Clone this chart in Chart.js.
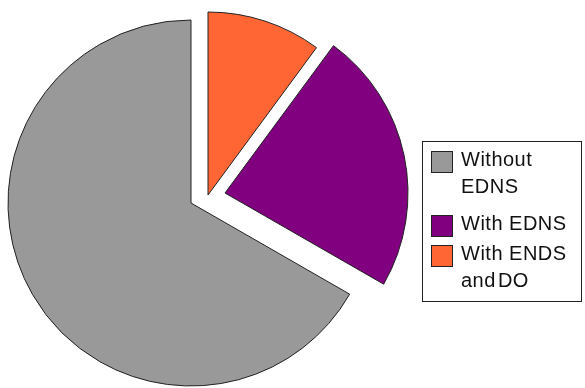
<!DOCTYPE html>
<html>
<head>
<meta charset="utf-8">
<script src="https://cdn.jsdelivr.net/npm/chart.js@4.4.1/dist/chart.umd.min.js"></script>
<style>
  html, body { margin: 0; padding: 0; background: #fff; }
  #wrap { position: relative; width: 585px; height: 388px; }
  #pie { position: absolute; left: 0; top: 0; }
  #legend {
    position: absolute; left: 422px; top: 141px; width: 158px; height: 159px;
    border: 1px solid #222; font-family: "Liberation Sans", Arial, sans-serif;
    font-size: 20px; line-height: 27px; color: #111; letter-spacing: 0.5px;
  }
  .item { display: flex; align-items: flex-start; margin-left: 8px; }
  .item:nth-child(1) { margin-top: 4px; }
  .item:nth-child(2) { margin-top: 10px; }
  .item:nth-child(3) { margin-top: 3px; }
  .box { width: 20px; height: 20px; border: 1px solid #222; margin-top: 5px; margin-right: 8px; flex: none; }
  .tight { word-spacing: -4px; }
</style>
</head>
<body>
<div id="wrap">
  <canvas id="pie" width="585" height="388"></canvas>
  <div id="legend"></div>
</div>
<script>
{
  // legend order
  const labels = ['Without\nEDNS', 'With EDNS', 'With ENDS\nand DO'];
  const values = [66.7, 23.2, 10.1];
  const colors = ['#999999', '#800080', '#ff6633'];
  // exploded slices pushed out from the centre (px)
  const explode = [[0, 0], [34, -10], [17, -8]];

  // the pie runs clockwise from 12 o'clock, so feed it back to front
  const order = [2, 1, 0];

  const explodePlugin = {
    id: 'explode',
    afterDatasetUpdate(chart, args) {
      const meta = chart.getDatasetMeta(args.index);
      meta.data.forEach((arc, i) => {
        const [dx, dy] = explode[order[i]];
        arc.x += dx;
        arc.y += dy;
      });
    }
  };

  const ctx = document.getElementById('pie').getContext('2d');
  new Chart(ctx, {
    type: 'pie',
    data: {
      labels: order.map(i => labels[i].replace('\n', ' ')),
      datasets: [{
        data: order.map(i => values[i]),
        backgroundColor: order.map(i => colors[i]),
        borderColor: '#222',
        borderWidth: 1
      }]
    },
    options: {
      responsive: false,
      animation: false,
      radius: 183,
      layout: { padding: { left: 0, right: 203, top: 18, bottom: 0 } },
      plugins: {
        legend: { display: false },
        tooltip: { enabled: false }
      }
    },
    plugins: [explodePlugin]
  });

  // legend box on the right
  const legend = document.getElementById('legend');
  labels.forEach((text, i) => {
    const item = document.createElement('div');
    item.className = 'item';
    const box = document.createElement('div');
    box.className = 'box';
    box.style.background = colors[i];
    const txt = document.createElement('div');
    text.split('\n').forEach(line => {
      const l = document.createElement('div');
      l.textContent = line;
      if (line === 'and DO') l.className = 'tight';
      txt.appendChild(l);
    });
    item.appendChild(box);
    item.appendChild(txt);
    legend.appendChild(item);
  });
}
</script>
</body>
</html>
